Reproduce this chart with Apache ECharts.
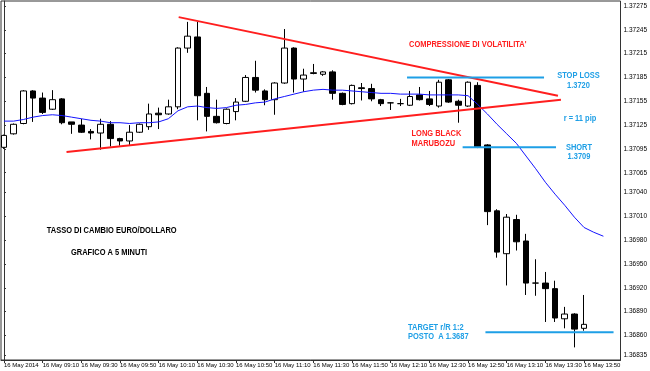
<!DOCTYPE html>
<html><head><meta charset="utf-8">
<script src="https://cdn.jsdelivr.net/npm/echarts@6/dist/echarts.min.js"></script>
<style>html,body{margin:0;padding:0;background:#fff}#c{width:650px;height:371px}</style>
</head><body><div id="c"></div>
<script>
// x tick labels every 4 bars (20 minutes), bar index 0 = 08:50
const xTickLabels = ["16 May 2014","16 May 09:10","16 May 09:30","16 May 09:50","16 May 10:10","16 May 10:30","16 May 10:50","16 May 11:10","16 May 11:30","16 May 11:50","16 May 12:10","16 May 12:30","16 May 12:50","16 May 13:10","16 May 13:30","16 May 13:50"];
const priceTicks = [1.37275,1.37245,1.37215,1.37185,1.37155,1.37125,1.37095,1.37065,1.37040,1.37010,1.36980,1.36950,1.36920,1.36890,1.36860,1.36835];

const opens  = [1.37097,1.37114,1.37127,1.37168,1.37159,1.37145,1.37158,1.37129,1.37125,1.37117,1.37115,1.37126,1.37108,1.37105,1.37116,1.37123,1.37140,1.37139,1.37148,1.37222,1.37236,1.37165,1.37136,1.37127,1.37142,1.37155,1.37185,1.37168,1.37157,1.37178,1.37222,1.37183,1.37190,1.37189,1.37192,1.37165,1.37152,1.37172,1.37171,1.37157,1.37153,1.37152,1.37150,1.37163,1.37158,1.37149,1.37182,1.37155,1.37149,1.37175,1.37100,1.37017,1.36963,1.37006,1.36979,1.36926,1.36926,1.36919,1.36881,1.36887,1.36869];
const closes = [1.37112,1.37126,1.37168,1.37159,1.37141,1.37157,1.37128,1.37126,1.37116,1.37115,1.37126,1.37108,1.37105,1.37116,1.37126,1.37139,1.37138,1.37148,1.37222,1.37237,1.37162,1.37136,1.37128,1.37145,1.37154,1.37185,1.37169,1.37157,1.37178,1.37222,1.37183,1.37188,1.37191,1.37192,1.37165,1.37151,1.37175,1.37171,1.37158,1.37152,1.37153,1.37152,1.37161,1.37157,1.37151,1.37179,1.37154,1.37150,1.37179,1.37097,1.37016,1.36965,1.37009,1.36978,1.36926,1.36926,1.36919,1.36882,1.36887,1.36868,1.36874];
const lows   = [1.37095,1.37113,1.37126,1.37129,1.37139,1.37144,1.37126,1.37114,1.37115,1.37107,1.37094,1.37098,1.37099,1.37100,1.37115,1.37119,1.37120,1.37138,1.37145,1.37216,1.37131,1.37117,1.37127,1.37126,1.37131,1.37154,1.37166,1.37150,1.37138,1.37177,1.37166,1.37167,1.37189,1.37187,1.37157,1.37150,1.37151,1.37156,1.37155,1.37149,1.37144,1.37149,1.37149,1.37156,1.37149,1.37147,1.37153,1.37128,1.37148,1.37096,1.36999,1.36958,1.36923,1.36967,1.36911,1.36910,1.36877,1.36877,1.36869,1.36845,1.36866];
const highs  = [1.37113,1.37127,1.37169,1.37169,1.37166,1.37169,1.37159,1.37129,1.37133,1.37120,1.37133,1.37130,1.37109,1.37125,1.37127,1.37152,1.37147,1.37157,1.37223,1.37255,1.37255,1.37173,1.37157,1.37146,1.37159,1.37188,1.37206,1.37170,1.37179,1.37246,1.37223,1.37196,1.37202,1.37193,1.37194,1.37166,1.37176,1.37178,1.37177,1.37158,1.37154,1.37158,1.37168,1.37173,1.37168,1.37182,1.37183,1.37157,1.37180,1.37179,1.37101,1.37019,1.37013,1.37012,1.36988,1.36956,1.36940,1.36929,1.36896,1.36888,1.36911];

// moving average (plotted shifted forward, reaches bar index 62)
const maValues = [1.37130,1.37130,1.37132,1.37135,1.37137,1.37138,1.37137,1.37135,1.37133,1.37131,1.37130,1.37128,1.37128,1.37127,1.37128,1.37128,1.37129,1.37133,1.37143,1.37148,1.37149,1.37147,1.37146,1.37147,1.37150,1.37151,1.37153,1.37154,1.37158,1.37161,1.37164,1.37167,1.37169,1.37170,1.37169,1.37169,1.37168,1.37167,1.37166,1.37165,1.37165,1.37164,1.37164,1.37164,1.37163,1.37163,1.37163,1.37163,1.37162,1.37151,1.37139,1.37126,1.37114,1.37102,1.37086,1.37070,1.37053,1.37038,1.37024,1.37009,1.36996,1.36990,1.36985];

// drawn annotation lines: [bar index, price]
const upperTrend = [[18.07,1.37261],[57.30,1.37162]];
const lowerTrend = [[6.47,1.37091],[57.61,1.37157]];
const stopLossLine = [[41.69,1.37185],[55.86,1.37185]];
const shortLine = [[47.44,1.37097],[57.10,1.37097]];
const targetLine = [[49.80,1.36864],[63.05,1.36864]];

const candleData = opens.map((o,i)=>[i,o,closes[i],lows[i],highs[i]]);
const maData = maValues.map((v,i)=>[i,v]);
const xTickValues = xTickLabels.map((_,i)=>i*4);

const RED = '#ff1e1e', BLUE = '#1e9fe6';
const axFont = '"Liberation Sans",Arial,sans-serif';
const annFont = 'bold 8.5px "Liberation Sans",Arial,sans-serif';
function txt(text, x, y, color, align){
  return {type:'text', x:x, y:y, scaleX:0.88, silent:true, z:100,
    style:{text:text, fill:color, font:annFont, align:align||'left', verticalAlign:'middle'}};
}
function seg(pts, color){
  return {type:'line', data:pts, symbol:'none', silent:true, z:5,
    lineStyle:{color:color, width:2}, animation:false};
}

const chart = echarts.init(document.getElementById('c'), null, {renderer:'canvas'});
chart.setOption({
  animation:false,
  backgroundColor:'#fff',
  grid:{left:1, top:1, right:25, bottom:11, show:true, borderColor:'#333', borderWidth:1, backgroundColor:'transparent'},
  xAxis:{type:'value', min:-0.308, max:63.77,
    axisLine:{show:true, lineStyle:{color:'#333', width:1}},
    axisTick:{show:true, customValues:xTickValues, length:3, lineStyle:{color:'#333'}},
    axisLabel:{show:true, customValues:xTickValues, showMinLabel:true, showMaxLabel:true, hideOverlap:false,
      formatter:(v)=>xTickLabels[Math.round(v/4)]||'', align:'left', margin:2, fontSize:6, fontFamily:axFont, color:'#000'},
    splitLine:{show:false}},
  yAxis:{type:'value', position:'right', min:1.368291, max:1.372813,
    axisLine:{show:true, lineStyle:{color:'#333', width:1}},
    axisTick:{show:true, customValues:priceTicks, length:2, lineStyle:{color:'#333'}},
    axisLabel:{show:true, customValues:priceTicks, showMinLabel:true, showMaxLabel:true,
      formatter:(v)=>v.toFixed(5), margin:3, fontSize:6.5, fontFamily:axFont, color:'#000'},
    splitLine:{show:false}},
  series:[
    {type:'candlestick', data:candleData, barWidth:6, z:3,
      itemStyle:{color:'#ffffff', color0:'#000000', borderColor:'#000000', borderColor0:'#000000', borderWidth:1}},
    {type:'line', data:maData, symbol:'none', z:4, lineStyle:{color:'#1414ff', width:1}},
    seg(upperTrend, RED), seg(lowerTrend, RED),
    seg(stopLossLine, BLUE), seg(shortLine, BLUE), seg(targetLine, BLUE)
  ],
  graphic:[
    txt("COMPRESSIONE DI VOLATILITA'", 409, 45, RED),
    txt('STOP LOSS', 578.5, 76, BLUE, 'center'),
    txt('1.3720', 578.5, 86, BLUE, 'center'),
    txt('r = 11 pip', 580, 118.5, BLUE, 'center'),
    txt('LONG BLACK', 411.5, 133.3, RED),
    txt('MARUBOZU', 411.5, 143.5, RED),
    txt('SHORT', 579, 147.3, BLUE, 'center'),
    txt('1.3709', 579, 157, BLUE, 'center'),
    txt('TASSO DI CAMBIO EURO/DOLLARO', 111.7, 231, '#000', 'center'),
    txt('GRAFICO A 5 MINUTI', 109, 252.5, '#000', 'center'),
    txt('TARGET r/R 1:2', 408, 327.3, BLUE),
    txt('POSTO  A 1.3687', 408, 336.5, BLUE)
  ]
});
</script></body></html>
